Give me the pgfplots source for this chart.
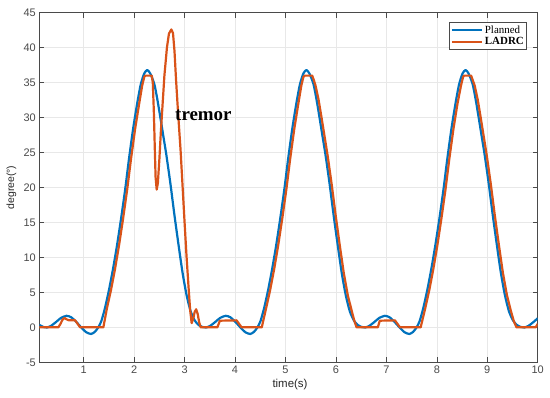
\documentclass[border=0pt]{standalone}
\usepackage{pgfplots}
\pgfplotsset{compat=1.18}
\usetikzlibrary{calc}
\usepackage{fontspec}
\setmainfont{Liberation Sans}
\newfontfamily\tnr{Liberation Serif}
\definecolor{mblue}{HTML}{0072BD}
\definecolor{mred}{HTML}{D95319}
\definecolor{axgray}{HTML}{4A4A4A}
\begin{document}
\begin{tikzpicture}
\begin{axis}[
  scale only axis,
  width=498.4bp, height=349.6bp,
  xmin=0.12, xmax=10, ymin=-5, ymax=45,
  xtick={1,2,...,10}, ytick={-5,0,...,45},
  tick align=inside,
  major tick length=5bp,
  axis line style={axgray, line width=0.6bp},
  every tick/.style={axgray, line width=0.6bp},
  grid=major,
  grid style={gray!18, line width=0.5bp},
  /pgf/number format/assume math mode=true,
  tick label style={font=\fontsize{11}{13}\selectfont, text=axgray},
  xlabel={time(s)},
  ylabel={degree(°)},
  xlabel style={font=\fontsize{11.5}{13}\selectfont, text=black!85, at={(axis description cs:0.503,-0.065)}, anchor=center},
  ylabel style={font=\fontsize{10.5}{12}\selectfont, text=black!85, at={(axis description cs:-0.056,0.5)}, anchor=center},
  legend style={at={(axis description cs:0.979,0.973)}, anchor=north east,
    font=\tnr\fontsize{11}{11}\selectfont, draw=axgray, line width=0.8bp,
    inner sep=1pt, row sep=-1pt, cells={anchor=west}},
  legend image code/.code={\draw[#1] (0bp,0bp) -- (30bp,0bp);},
  every axis plot/.append style={line width=2.2bp, line join=round},
]
\coordinate (sw) at (rel axis cs:0,0);
\coordinate (ne) at (rel axis cs:1,1);
% Planned
\addplot[mblue, smooth, tension=0.4] coordinates {
  (0.12,0.35) (0.20,0.05) (0.27,-0.02) (0.35,0.2) (0.45,0.75) (0.55,1.35)
  (0.66,1.65) (0.75,1.45) (0.85,0.8) (0.95,0.0) (1.05,-0.7) (1.145,-0.95)
  (1.22,-0.65) (1.29,0.0) (1.35,0.9) (1.42,2.7) (1.50,5.3) (1.58,8.3)
  (1.66,11.7) (1.74,15.5) (1.82,19.6) (1.90,24.2) (1.98,28.4) (2.06,32.0)
  (2.13,34.7) (2.20,36.3) (2.26,36.8) (2.32,36.3) (2.40,34.8) (2.46,32.6)
  (2.52,30.0) (2.58,27.3) (2.64,24.6) (2.72,20.5) (2.80,16.0) (2.88,11.8)
  (2.96,7.8) (3.04,4.6) (3.12,2.3) (3.20,1.0)
  (3.275,0.35) (3.355,0.05) (3.425,-0.02) (3.505,0.2) (3.605,0.75) (3.705,1.35)
  (3.815,1.65) (3.905,1.45) (4.005,0.8) (4.105,0.0) (4.205,-0.7) (4.30,-0.95)
  (4.375,-0.65) (4.445,0.0) (4.505,0.9) (4.575,2.7) (4.655,5.3) (4.735,8.3)
  (4.815,11.7) (4.895,15.5) (4.975,19.6) (5.055,24.2) (5.135,28.4) (5.215,32.0)
  (5.285,34.7) (5.355,36.3) (5.415,36.8) (5.475,36.3) (5.555,34.8) (5.615,32.6)
  (5.675,30.0) (5.735,27.3) (5.795,24.6) (5.875,20.5) (5.955,16.0) (6.035,11.8)
  (6.115,7.8) (6.195,4.6) (6.275,2.3) (6.355,1.0)
  (6.43,0.35) (6.51,0.05) (6.58,-0.02) (6.66,0.2) (6.76,0.75) (6.86,1.35)
  (6.97,1.65) (7.06,1.45) (7.16,0.8) (7.26,0.0) (7.36,-0.7) (7.455,-0.95)
  (7.53,-0.65) (7.60,0.0) (7.66,0.9) (7.73,2.7) (7.81,5.3) (7.89,8.3)
  (7.97,11.7) (8.05,15.5) (8.13,19.6) (8.21,24.2) (8.29,28.4) (8.37,32.0)
  (8.44,34.7) (8.51,36.3) (8.57,36.8) (8.63,36.3) (8.71,34.8) (8.77,32.6)
  (8.83,30.0) (8.89,27.3) (8.95,24.6) (9.03,20.5) (9.11,16.0) (9.19,11.8)
  (9.27,7.8) (9.35,4.6) (9.43,2.3) (9.51,1.0)
  (9.585,0.35) (9.665,0.05) (9.735,-0.02) (9.815,0.2) (9.915,0.75) (10,1.3)
};
\addlegendentry{Planned}
% LADRC
\addplot[mred] coordinates {
  (0.12,0) (0.497,0) (0.54,0.5) (0.58,1.1) (0.62,1.34) (0.66,1.15) (0.70,1.02)
  (0.83,1.0) (0.88,0.5) (0.93,0) (1.39,0) (1.46,2.7) (1.54,5.3) (1.62,8.3)
  (1.70,11.7) (1.78,15.5) (1.86,19.6) (1.94,24.2) (2.02,28.4) (2.10,32.0)
  (2.16,34.6) (2.20,35.8) (2.22,36) (2.35,36)
  (2.37,35) (2.39,31) (2.41,25.5) (2.425,21.5) (2.447,19.7) (2.47,20.6)
  (2.50,24) (2.53,28) (2.565,32) (2.60,36) (2.65,40) (2.69,42) (2.737,42.6)
  (2.77,42.1) (2.80,39.5) (2.83,35.5) (2.87,30.8) (2.92,25.4) (2.96,20.2)
  (3.00,15) (3.04,10) (3.08,5.6) (3.11,2.5) (3.14,0.6) (3.17,1.2) (3.20,2.2)
  (3.23,2.58) (3.26,1.9) (3.29,0.7) (3.32,0)
  (3.65,0) (3.70,0.95) (4.03,1.0) (4.13,0) (4.53,0) (4.615,2.7) (4.695,5.3)
  (4.775,8.3) (4.855,11.7) (4.935,15.5) (5.015,19.6) (5.095,24.2) (5.175,28.4)
  (5.255,32.0) (5.315,34.6) (5.355,35.8) (5.38,36) (5.53,36) (5.56,35.4)
  (5.595,34.6) (5.655,32.6) (5.715,30.0) (5.775,27.3) (5.835,24.6) (5.915,20.5)
  (5.995,16.0) (6.075,11.8) (6.155,7.8) (6.235,4.6) (6.315,2.3) (6.37,0.8)
  (6.41,0)
  (6.83,0) (6.87,0.95) (7.17,1.0) (7.27,0) (7.68,0) (7.77,2.7) (7.85,5.3)
  (7.93,8.3) (8.01,11.7) (8.09,15.5) (8.17,19.6) (8.25,24.2) (8.33,28.4)
  (8.41,32.0) (8.48,34.6) (8.52,35.8) (8.54,36) (8.68,36) (8.71,35.4)
  (8.75,34.6) (8.81,32.6) (8.87,30.0) (8.93,27.3) (8.99,24.6) (9.07,20.5)
  (9.15,16.0) (9.23,11.8) (9.31,7.8) (9.39,4.6) (9.47,2.3) (9.53,0.8)
  (9.58,0) (9.96,0) (10,0.5)
};
\addlegendentry{\bfseries LADRC}
\node[font=\tnr\bfseries\fontsize{19}{19}\selectfont, anchor=west, inner sep=0pt]
  at (axis cs:2.81,30.4) {tremor};
\end{axis}
\pgfresetboundingbox
\path[use as bounding box] ($(sw)+(-39.3bp,-35.7bp)$) rectangle ($(ne)+(12.3bp,12.7bp)$);
\end{tikzpicture}
\end{document}
